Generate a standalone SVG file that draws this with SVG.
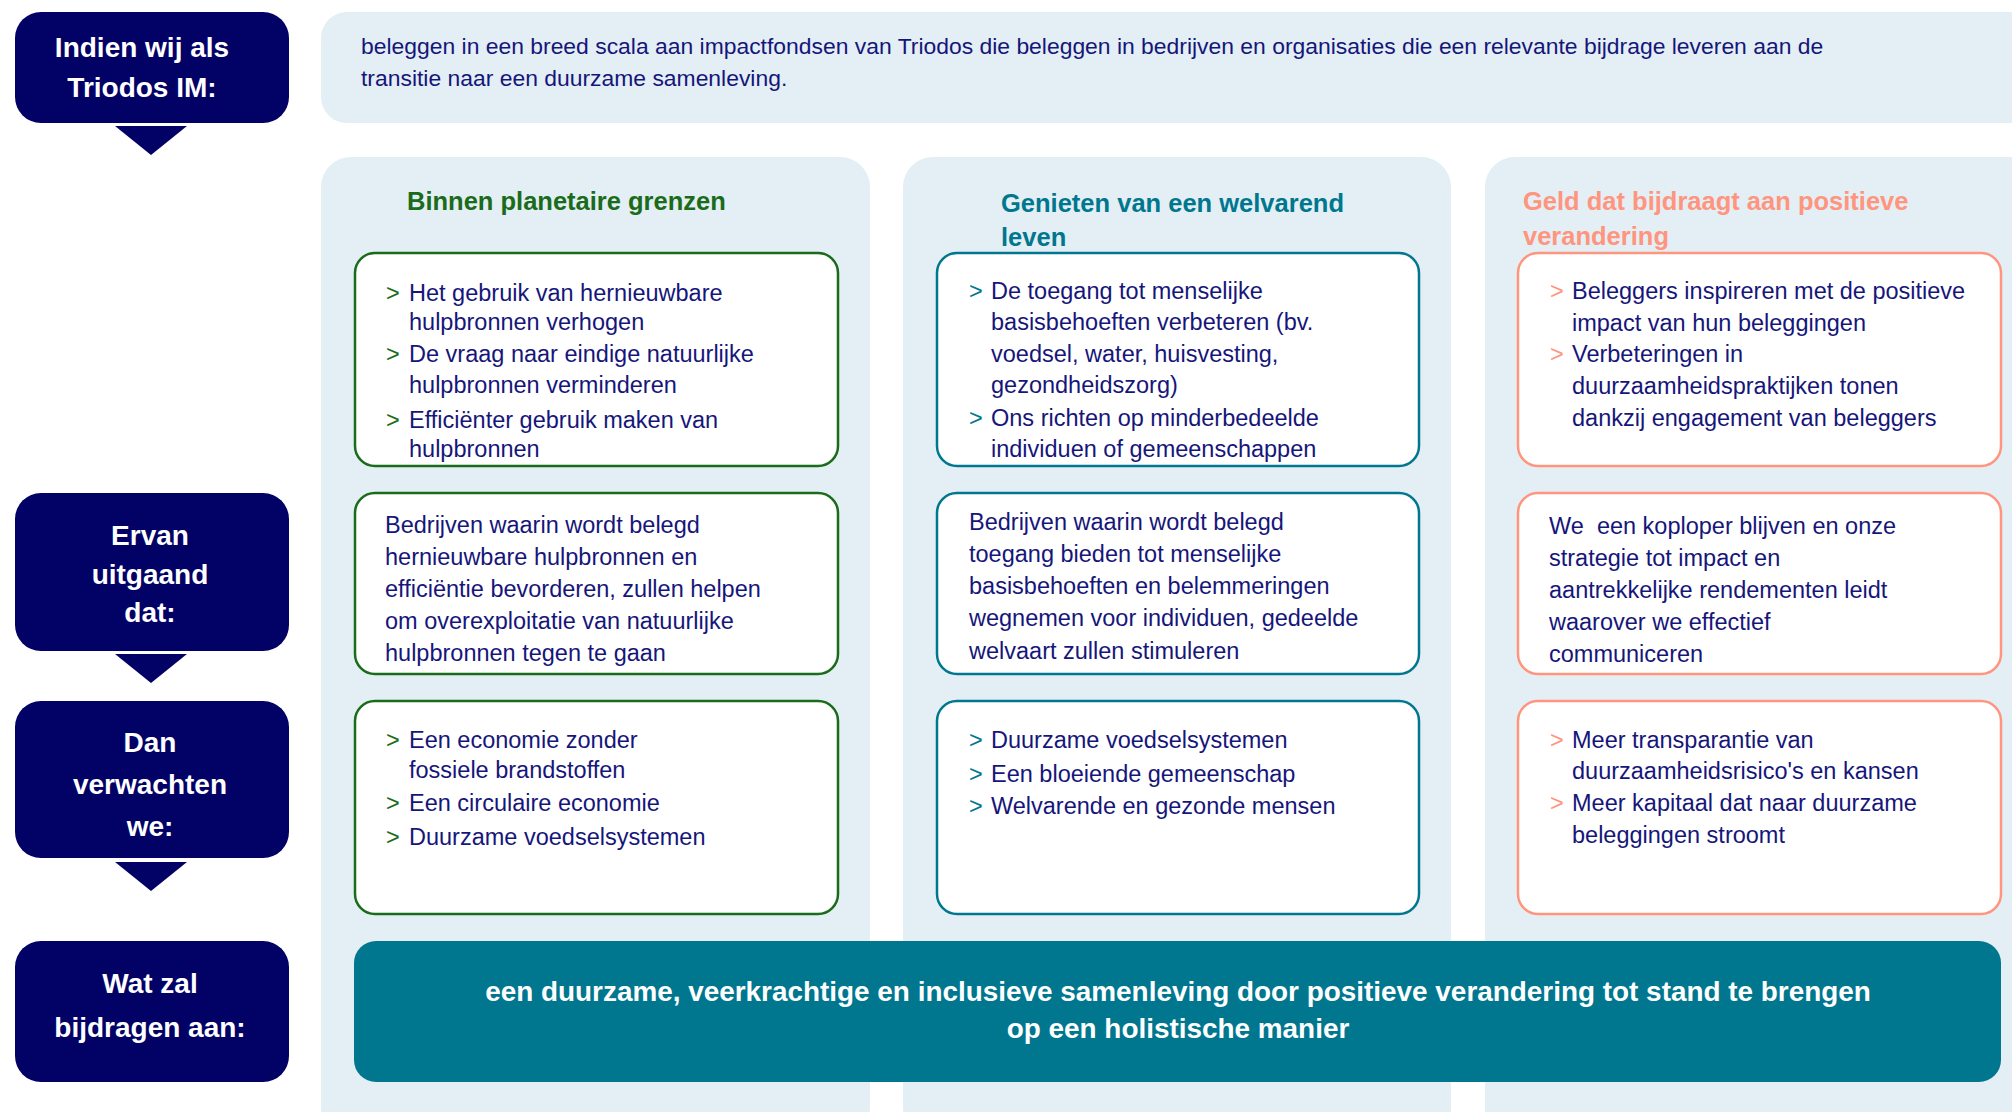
<svg xmlns="http://www.w3.org/2000/svg" width="2012" height="1112" viewBox="0 0 2012 1112">
<defs>
<style>
.navy{fill:#020266}
.panel{fill:#e3eff4}
.lbl{font-family:"Liberation Sans",Arial,sans-serif;font-weight:bold;font-size:28px;fill:#ffffff;text-anchor:middle}
.body{font-family:"Liberation Sans",Arial,sans-serif;font-size:23.5px;fill:#16167a}
.intro{font-family:"Liberation Sans",Arial,sans-serif;font-size:22.9px;fill:#16167a}
.head{font-family:"Liberation Sans",Arial,sans-serif;font-weight:bold;font-size:25.5px}
.box{fill:#ffffff;stroke-width:2.5}
.g{stroke:#1a6b1a}
.t{stroke:#00778f}
.s{stroke:#ff957f}
.bg{fill:#1a6b1a}
.bt{fill:#00778f}
.bs{fill:#ff957f}
.foot{font-family:"Liberation Sans",Arial,sans-serif;font-weight:bold;font-size:27.9px;fill:#ffffff;text-anchor:middle}
</style>
</defs>
<rect width="2012" height="1112" fill="#ffffff"/>

<!-- column panels -->
<g id="panels">
<rect class="panel" x="321" y="157" width="549" height="980" rx="30"/>
<rect class="panel" x="903" y="157" width="548" height="980" rx="30"/>
<rect class="panel" x="1485" y="157" width="560" height="980" rx="30"/>
</g>

<!-- connectors (pointer triangles) -->
<g id="connectors">
<polygon class="navy" points="115,126 187,126 151,155"/>
<polygon class="navy" points="115,654 187,654 151,683"/>
<polygon class="navy" points="115,862 187,862 151,891"/>
</g>

<g id="label-indien">
<rect class="navy" x="15" y="12" width="274" height="111" rx="26"/>
<text class="lbl" x="142" y="57">Indien wij als</text>
<text class="lbl" x="142" y="97">Triodos IM:</text>
</g>

<g id="intro">
<rect class="panel" x="321" y="12" width="1720" height="111" rx="26"/>
<text class="intro" x="361" y="54">beleggen in een breed scala aan impactfondsen van Triodos die beleggen in bedrijven en organisaties die een relevante bijdrage leveren aan de</text>
<text class="intro" x="361" y="86">transitie naar een duurzame samenleving.</text>
</g>

<g id="label-ervan">
<rect class="navy" x="15" y="493" width="274" height="158" rx="26"/>
<text class="lbl" x="150" y="545">Ervan</text>
<text class="lbl" x="150" y="584">uitgaand</text>
<text class="lbl" x="150" y="622">dat:</text>
</g>

<g id="label-dan">
<rect class="navy" x="15" y="701" width="274" height="157" rx="26"/>
<text class="lbl" x="150" y="752">Dan</text>
<text class="lbl" x="150" y="794">verwachten</text>
<text class="lbl" x="150" y="836">we:</text>
</g>

<g id="label-wat">
<rect class="navy" x="15" y="941" width="274" height="141" rx="26"/>
<text class="lbl" x="150" y="993">Wat zal</text>
<text class="lbl" x="150" y="1037">bijdragen aan:</text>
</g>

<!-- headings -->
<g id="heading-planet">
<text class="head" x="407" y="210" fill="#1a6b1a">Binnen planetaire grenzen</text>
</g>
<g id="heading-welvaart">
<text class="head" x="1001" y="212" fill="#00778f">Genieten van een welvarend</text>
<text class="head" x="1001" y="246" fill="#00778f">leven</text>
</g>
<g id="heading-geld">
<text class="head" x="1523" y="210" fill="#ff957f">Geld dat bijdraagt aan positieve</text>
<text class="head" x="1523" y="245" fill="#ff957f">verandering</text>
</g>

<!-- row 1 -->
<g id="c1r1">
<rect class="box g" x="355" y="253" width="483" height="213" rx="20"/>
<text class="body bg" x="386" y="301">&gt;</text>
<text class="body" x="409" y="301">Het gebruik van hernieuwbare</text>
<text class="body" x="409" y="330">hulpbronnen verhogen</text>
<text class="body bg" x="386" y="362">&gt;</text>
<text class="body" x="409" y="362">De vraag naar eindige natuurlijke</text>
<text class="body" x="409" y="393">hulpbronnen verminderen</text>
<text class="body bg" x="386" y="428">&gt;</text>
<text class="body" x="409" y="428">Efficiënter gebruik maken van</text>
<text class="body" x="409" y="457">hulpbronnen</text>
</g>
<g id="c2r1">
<rect class="box t" x="937" y="253" width="482" height="213" rx="20"/>
<text class="body bt" x="969" y="299">&gt;</text>
<text class="body" x="991" y="299">De toegang tot menselijke</text>
<text class="body" x="991" y="330">basisbehoeften verbeteren (bv.</text>
<text class="body" x="991" y="362">voedsel, water, huisvesting,</text>
<text class="body" x="991" y="393">gezondheidszorg)</text>
<text class="body bt" x="969" y="426">&gt;</text>
<text class="body" x="991" y="426">Ons richten op minderbedeelde</text>
<text class="body" x="991" y="457">individuen of gemeenschappen</text>
</g>
<g id="c3r1">
<rect class="box s" x="1518" y="253" width="483" height="213" rx="20"/>
<text class="body bs" x="1550" y="299">&gt;</text>
<text class="body" x="1572" y="299">Beleggers inspireren met de positieve</text>
<text class="body" x="1572" y="331">impact van hun beleggingen</text>
<text class="body bs" x="1550" y="362">&gt;</text>
<text class="body" x="1572" y="362">Verbeteringen in</text>
<text class="body" x="1572" y="394">duurzaamheidspraktijken tonen</text>
<text class="body" x="1572" y="426">dankzij engagement van beleggers</text>
</g>

<!-- row 2 -->
<g id="c1r2">
<rect class="box g" x="355" y="493" width="483" height="181" rx="20"/>
<text class="body" x="385" y="533">Bedrijven waarin wordt belegd</text>
<text class="body" x="385" y="565">hernieuwbare hulpbronnen en</text>
<text class="body" x="385" y="597">efficiëntie bevorderen, zullen helpen</text>
<text class="body" x="385" y="629">om overexploitatie van natuurlijke</text>
<text class="body" x="385" y="661">hulpbronnen tegen te gaan</text>
</g>
<g id="c2r2">
<rect class="box t" x="937" y="493" width="482" height="181" rx="20"/>
<text class="body" x="969" y="530">Bedrijven waarin wordt belegd</text>
<text class="body" x="969" y="562">toegang bieden tot menselijke</text>
<text class="body" x="969" y="594">basisbehoeften en belemmeringen</text>
<text class="body" x="969" y="626">wegnemen voor individuen, gedeelde</text>
<text class="body" x="969" y="659">welvaart zullen stimuleren</text>
</g>
<g id="c3r2">
<rect class="box s" x="1518" y="493" width="483" height="181" rx="20"/>
<text class="body" x="1549" y="534" xml:space="preserve">We  een koploper blijven en onze</text>
<text class="body" x="1549" y="566">strategie tot impact en</text>
<text class="body" x="1549" y="598">aantrekkelijke rendementen leidt</text>
<text class="body" x="1549" y="630">waarover we effectief</text>
<text class="body" x="1549" y="662">communiceren</text>
</g>

<!-- row 3 -->
<g id="c1r3">
<rect class="box g" x="355" y="701" width="483" height="213" rx="20"/>
<text class="body bg" x="386" y="748">&gt;</text>
<text class="body" x="409" y="748">Een economie zonder</text>
<text class="body" x="409" y="778">fossiele brandstoffen</text>
<text class="body bg" x="386" y="811">&gt;</text>
<text class="body" x="409" y="811">Een circulaire economie</text>
<text class="body bg" x="386" y="845">&gt;</text>
<text class="body" x="409" y="845">Duurzame voedselsystemen</text>
</g>
<g id="c2r3">
<rect class="box t" x="937" y="701" width="482" height="213" rx="20"/>
<text class="body bt" x="969" y="748">&gt;</text>
<text class="body" x="991" y="748">Duurzame voedselsystemen</text>
<text class="body bt" x="969" y="782">&gt;</text>
<text class="body" x="991" y="782">Een bloeiende gemeenschap</text>
<text class="body bt" x="969" y="814">&gt;</text>
<text class="body" x="991" y="814">Welvarende en gezonde mensen</text>
</g>
<g id="c3r3">
<rect class="box s" x="1518" y="701" width="483" height="213" rx="20"/>
<text class="body bs" x="1550" y="748">&gt;</text>
<text class="body" x="1572" y="748">Meer transparantie van</text>
<text class="body" x="1572" y="779">duurzaamheidsrisico's en kansen</text>
<text class="body bs" x="1550" y="811">&gt;</text>
<text class="body" x="1572" y="811">Meer kapitaal dat naar duurzame</text>
<text class="body" x="1572" y="843">beleggingen stroomt</text>
</g>

<g id="outcome">
<rect x="354" y="941" width="1647" height="141" rx="22" fill="#00778f"/>
<text class="foot" x="1178" y="1001">een duurzame, veerkrachtige en inclusieve samenleving door positieve verandering tot stand te brengen</text>
<text class="foot" x="1178" y="1038">op een holistische manier</text>
</g>
</svg>
